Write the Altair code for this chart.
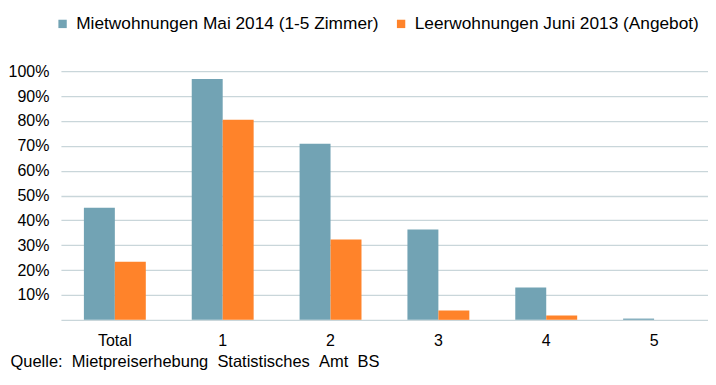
import altair as alt
import pandas as pd

categories = ["Total", "1", "2", "3", "4", "5"]
series_names = ["Mietwohnungen Mai 2014 (1-5 Zimmer)", "Leerwohnungen Juni 2013 (Angebot)"]
miet_values = [0.451, 0.969, 0.708, 0.363, 0.130, 0.005]
leer_values = [0.234, 0.805, 0.323, 0.0375, 0.0175, 0.0]
y_ticks = [0, 0.1, 0.2, 0.3, 0.4, 0.5, 0.6, 0.7, 0.8, 0.9, 1.0]
source_text = "Quelle:\u00a0\u00a0Mietpreiserhebung\u00a0\u00a0Statistisches\u00a0\u00a0Amt\u00a0\u00a0BS"
colors = ["#72A3B4", "#FF832A"]

rows = []
for i, c in enumerate(categories):
    rows.append({"Kategorie": c, "Serie": series_names[0], "Anteil": miet_values[i]})
    rows.append({"Kategorie": c, "Serie": series_names[1], "Anteil": leer_values[i]})
df = pd.DataFrame(rows)

FONT = "Liberation Sans"

chart = alt.Chart(df).mark_bar().encode(
    x=alt.X("Kategorie:N", sort=categories,
            scale=alt.Scale(paddingInner=0.426, paddingOuter=0.213),
            axis=alt.Axis(title=source_text, labelAngle=0, ticks=False, domain=False,
                          labelFontSize=16, labelColor="#000000", labelPadding=13,
                          labelFont=FONT,
                          titleFont=FONT, titleFontSize=16.5, titleFontWeight="normal",
                          titleColor="#000000", titleAnchor="start", titleAlign="left",
                          titleX=-51, titleY=42, titleBaseline="middle")),
    xOffset=alt.XOffset("Serie:N", sort=series_names, scale=alt.Scale(paddingInner=0, paddingOuter=0)),
    y=alt.Y("Anteil:Q", scale=alt.Scale(domain=[0, 1], nice=False),
            axis=alt.Axis(title=None, values=y_ticks, format=".0%",
                          labelExpr="datum.value == 0 ? '' : datum.label",
                          ticks=False, domain=False, labelFontSize=16, labelFont=FONT,
                          labelColor="#000000", labelPadding=12,
                          gridColor="#C9D6DA", gridWidth=1.3)),
    color=alt.Color("Serie:N", sort=series_names,
                    scale=alt.Scale(domain=series_names, range=colors),
                    legend=alt.Legend(title=None, orient="none", direction="horizontal",
                                      legendX=-7, legendY=-56, symbolType="square",
                                      symbolSize=70, symbolStrokeWidth=0,
                                      labelFontSize=17.3, labelFont=FONT, labelColor="#000000",
                                      labelOffset=5, columnPadding=14, labelLimit=400)),
).properties(
    width=648, height=249,
    padding={"left": 53, "top": 63, "right": 0, "bottom": 60},
    autosize=alt.AutoSizeParams(type="none"),
).configure_view(stroke=None)

chart.save("out.html", embed_options={"renderer": "svg", "actions": False})
